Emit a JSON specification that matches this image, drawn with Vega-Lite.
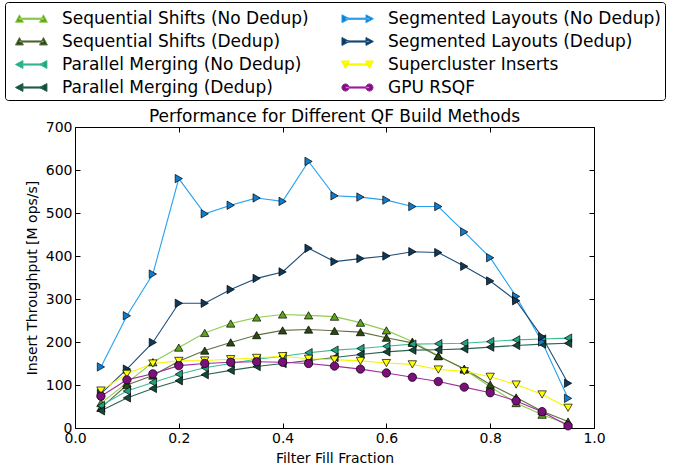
{
  "$schema": "https://vega.github.io/schema/vega-lite/v6.json",
  "width": 519,
  "height": 301,
  "autosize": {"type": "none"},
  "padding": {"left": 75, "top": 127, "right": 79, "bottom": 42},
  "title": {"text": "Performance for Different QF Build Methods", "font": "DejaVu Sans", "fontSize": 17, "fontWeight": "normal", "color": "black", "offset": -124, "anchor": "middle"},
  "data": {"values": [
    {"f": 0.05, "Sequential Shifts (No Dedup)": 58, "Sequential Shifts (Dedup)": 47, "Parallel Merging (No Dedup)": 52, "Parallel Merging (Dedup)": 40, "Segmented Layouts (No Dedup)": 142, "Segmented Layouts (Dedup)": 80, "Supercluster Inserts": 87, "GPU RSQF": 74},
    {"f": 0.10, "Sequential Shifts (No Dedup)": 105, "Sequential Shifts (Dedup)": 100, "Parallel Merging (No Dedup)": 86, "Parallel Merging (Dedup)": 70, "Segmented Layouts (No Dedup)": 261, "Segmented Layouts (Dedup)": 137, "Supercluster Inserts": 126, "GPU RSQF": 112},
    {"f": 0.15, "Sequential Shifts (No Dedup)": 153, "Sequential Shifts (Dedup)": 122, "Parallel Merging (No Dedup)": 106, "Parallel Merging (Dedup)": 92, "Segmented Layouts (No Dedup)": 358, "Segmented Layouts (Dedup)": 199, "Supercluster Inserts": 150, "GPU RSQF": 126},
    {"f": 0.20, "Sequential Shifts (No Dedup)": 187, "Sequential Shifts (Dedup)": 155, "Parallel Merging (No Dedup)": 125, "Parallel Merging (Dedup)": 110, "Segmented Layouts (No Dedup)": 580, "Segmented Layouts (Dedup)": 290, "Supercluster Inserts": 156, "GPU RSQF": 145},
    {"f": 0.25, "Sequential Shifts (No Dedup)": 221, "Sequential Shifts (Dedup)": 180, "Parallel Merging (No Dedup)": 140, "Parallel Merging (Dedup)": 124, "Segmented Layouts (No Dedup)": 498, "Segmented Layouts (Dedup)": 290, "Supercluster Inserts": 157, "GPU RSQF": 150},
    {"f": 0.30, "Sequential Shifts (No Dedup)": 243, "Sequential Shifts (Dedup)": 199, "Parallel Merging (No Dedup)": 150, "Parallel Merging (Dedup)": 134, "Segmented Layouts (No Dedup)": 518, "Segmented Layouts (Dedup)": 322, "Supercluster Inserts": 160, "GPU RSQF": 153},
    {"f": 0.35, "Sequential Shifts (No Dedup)": 257, "Sequential Shifts (Dedup)": 216, "Parallel Merging (No Dedup)": 160, "Parallel Merging (Dedup)": 143, "Segmented Layouts (No Dedup)": 535, "Segmented Layouts (Dedup)": 348, "Supercluster Inserts": 163, "GPU RSQF": 154},
    {"f": 0.40, "Sequential Shifts (No Dedup)": 264, "Sequential Shifts (Dedup)": 227, "Parallel Merging (No Dedup)": 167, "Parallel Merging (Dedup)": 150, "Segmented Layouts (No Dedup)": 527, "Segmented Layouts (Dedup)": 363, "Supercluster Inserts": 167, "GPU RSQF": 153},
    {"f": 0.45, "Sequential Shifts (No Dedup)": 262, "Sequential Shifts (Dedup)": 229, "Parallel Merging (No Dedup)": 175, "Parallel Merging (Dedup)": 157, "Segmented Layouts (No Dedup)": 620, "Segmented Layouts (Dedup)": 418, "Supercluster Inserts": 161, "GPU RSQF": 150},
    {"f": 0.50, "Sequential Shifts (No Dedup)": 259, "Sequential Shifts (Dedup)": 226, "Parallel Merging (No Dedup)": 181, "Parallel Merging (Dedup)": 164, "Segmented Layouts (No Dedup)": 540, "Segmented Layouts (Dedup)": 387, "Supercluster Inserts": 159, "GPU RSQF": 144},
    {"f": 0.55, "Sequential Shifts (No Dedup)": 245, "Sequential Shifts (Dedup)": 223, "Parallel Merging (No Dedup)": 185, "Parallel Merging (Dedup)": 171, "Segmented Layouts (No Dedup)": 537, "Segmented Layouts (Dedup)": 394, "Supercluster Inserts": 156, "GPU RSQF": 137},
    {"f": 0.60, "Sequential Shifts (No Dedup)": 227, "Sequential Shifts (Dedup)": 210, "Parallel Merging (No Dedup)": 190, "Parallel Merging (Dedup)": 177, "Segmented Layouts (No Dedup)": 530, "Segmented Layouts (Dedup)": 400, "Supercluster Inserts": 151, "GPU RSQF": 128},
    {"f": 0.65, "Sequential Shifts (No Dedup)": 201, "Sequential Shifts (Dedup)": 198, "Parallel Merging (No Dedup)": 195, "Parallel Merging (Dedup)": 181, "Segmented Layouts (No Dedup)": 515, "Segmented Layouts (Dedup)": 410, "Supercluster Inserts": 148, "GPU RSQF": 118},
    {"f": 0.70, "Sequential Shifts (No Dedup)": 168, "Sequential Shifts (Dedup)": 167, "Parallel Merging (No Dedup)": 196, "Parallel Merging (Dedup)": 182, "Segmented Layouts (No Dedup)": 515, "Segmented Layouts (Dedup)": 408, "Supercluster Inserts": 136, "GPU RSQF": 108},
    {"f": 0.75, "Sequential Shifts (No Dedup)": 136, "Sequential Shifts (Dedup)": 138, "Parallel Merging (No Dedup)": 197, "Parallel Merging (Dedup)": 184, "Segmented Layouts (No Dedup)": 456, "Segmented Layouts (Dedup)": 376, "Supercluster Inserts": 132, "GPU RSQF": 95},
    {"f": 0.80, "Sequential Shifts (No Dedup)": 96, "Sequential Shifts (Dedup)": 101, "Parallel Merging (No Dedup)": 201, "Parallel Merging (Dedup)": 188, "Segmented Layouts (No Dedup)": 396, "Segmented Layouts (Dedup)": 342, "Supercluster Inserts": 119, "GPU RSQF": 82},
    {"f": 0.85, "Sequential Shifts (No Dedup)": 58, "Sequential Shifts (Dedup)": 71, "Parallel Merging (No Dedup)": 205, "Parallel Merging (Dedup)": 192, "Segmented Layouts (No Dedup)": 306, "Segmented Layouts (Dedup)": 296, "Supercluster Inserts": 101, "GPU RSQF": 63},
    {"f": 0.90, "Sequential Shifts (No Dedup)": 31, "Sequential Shifts (Dedup)": 39, "Parallel Merging (No Dedup)": 207, "Parallel Merging (Dedup)": 195, "Segmented Layouts (No Dedup)": 200, "Segmented Layouts (Dedup)": 212, "Supercluster Inserts": 78, "GPU RSQF": 38},
    {"f": 0.95, "Sequential Shifts (No Dedup)": 9, "Sequential Shifts (Dedup)": 15, "Parallel Merging (No Dedup)": 209, "Parallel Merging (Dedup)": 197, "Segmented Layouts (No Dedup)": 69, "Segmented Layouts (Dedup)": 104, "Supercluster Inserts": 47, "GPU RSQF": 5}
  ]},
  "transform": [
    {"fold": ["Sequential Shifts (No Dedup)", "Sequential Shifts (Dedup)", "Parallel Merging (No Dedup)", "Parallel Merging (Dedup)", "Segmented Layouts (No Dedup)", "Segmented Layouts (Dedup)", "Supercluster Inserts", "GPU RSQF"], "as": ["method", "v"]}
  ],
  "layer": [
    {
      "mark": {"type": "line", "strokeWidth": 1.1},
      "encoding": {
        "x": {"field": "f", "type": "quantitative", "scale": {"domain": [0, 1], "nice": false},
              "axis": {"orient": "bottom", "title": "Filter Fill Fraction", "values": [0, 0.2, 0.4, 0.6, 0.8, 1.0], "format": ".1f", "titlePadding": 6, "labelFlush": false}},
        "y": {"field": "v", "type": "quantitative", "scale": {"domain": [0, 700], "nice": false},
              "axis": {"orient": "left", "title": "Insert Throughput [M ops/s]", "values": [0, 100, 200, 300, 400, 500, 600, 700], "titlePadding": 6, "labelFlush": false}},
        "stroke": {"field": "method", "type": "nominal", "legend": null,
                   "scale": {"domain": ["Sequential Shifts (No Dedup)", "Sequential Shifts (Dedup)", "Parallel Merging (No Dedup)", "Parallel Merging (Dedup)", "Segmented Layouts (No Dedup)", "Segmented Layouts (Dedup)", "Supercluster Inserts", "GPU RSQF"],
                             "range": ["#8fcc4e", "#5f7045", "#3bbd92", "#2a6450", "#27a1f0", "#1f4e79", "#f5f500", "#a32ca3"]}}
      }
    },
    {
      "mark": {"type": "point", "filled": true, "stroke": "black", "strokeWidth": 0.7, "opacity": 1, "size": 70},
      "encoding": {
        "x": {"field": "f", "type": "quantitative", "axis": null},
        "y": {"field": "v", "type": "quantitative", "axis": null},
        "fill": {"field": "method", "type": "nominal", "legend": null,
                 "scale": {"domain": ["Sequential Shifts (No Dedup)", "Sequential Shifts (Dedup)", "Parallel Merging (No Dedup)", "Parallel Merging (Dedup)", "Segmented Layouts (No Dedup)", "Segmented Layouts (Dedup)", "Supercluster Inserts", "GPU RSQF"],
                           "range": ["#5fa21f", "#2b4a12", "#1fa383", "#0f4b38", "#0f7ccf", "#0c3a5e", "#ffff00", "#7d0f7d"]}},
        "shape": {"field": "method", "type": "nominal", "legend": null,
                  "scale": {"domain": ["Sequential Shifts (No Dedup)", "Sequential Shifts (Dedup)", "Parallel Merging (No Dedup)", "Parallel Merging (Dedup)", "Segmented Layouts (No Dedup)", "Segmented Layouts (Dedup)", "Supercluster Inserts", "GPU RSQF"],
                            "range": ["triangle-up", "triangle-up", "triangle-left", "triangle-left", "triangle-right", "triangle-right", "triangle-down", "circle"]}}
      }
    },
    {
      "mark": {"type": "point", "filled": true, "opacity": 0, "strokeWidth": 1},
      "encoding": {
        "x": {"field": "f", "type": "quantitative", "axis": {"orient": "top", "labels": false, "title": null, "values": [0, 0.2, 0.4, 0.6, 0.8, 1.0]}},
        "y": {"field": "v", "type": "quantitative", "axis": {"orient": "right", "labels": false, "title": null, "values": [0, 100, 200, 300, 400, 500, 600, 700]}},
        "fill": {"field": "method", "type": "nominal",
                 "scale": {"domain": ["Sequential Shifts (No Dedup)", "Sequential Shifts (Dedup)", "Parallel Merging (No Dedup)", "Parallel Merging (Dedup)", "Segmented Layouts (No Dedup)", "Segmented Layouts (Dedup)", "Supercluster Inserts", "GPU RSQF"],
                           "range": ["#5fa21f", "#2b4a12", "#1fa383", "#0f4b38", "#0f7ccf", "#0c3a5e", "#ffff00", "#7d0f7d"]},
                 "legend": {"title": null}},
        "stroke": {"field": "method", "type": "nominal",
                   "scale": {"domain": ["Sequential Shifts (No Dedup)", "Sequential Shifts (Dedup)", "Parallel Merging (No Dedup)", "Parallel Merging (Dedup)", "Segmented Layouts (No Dedup)", "Segmented Layouts (Dedup)", "Supercluster Inserts", "GPU RSQF"],
                             "range": ["#8fcc4e", "#5f7045", "#3bbd92", "#2a6450", "#27a1f0", "#1f4e79", "#f5f500", "#a32ca3"]},
                   "legend": {"title": null}},
        "shape": {"field": "method", "type": "nominal",
                  "scale": {"domain": ["Sequential Shifts (No Dedup)", "Sequential Shifts (Dedup)", "Parallel Merging (No Dedup)", "Parallel Merging (Dedup)", "Segmented Layouts (No Dedup)", "Segmented Layouts (Dedup)", "Supercluster Inserts", "GPU RSQF"],
                            "range": [
                              "M-0.17,-0.05 L1.83,-0.05 L1.83,0.05 L-0.17,0.05 Z M-0.5,0.29 L0.16,0.29 L-0.17,-0.33 Z M1.5,0.29 L2.16,0.29 L1.83,-0.33 Z",
                              "M-0.17,-0.05 L1.83,-0.05 L1.83,0.05 L-0.17,0.05 Z M-0.5,0.29 L0.16,0.29 L-0.17,-0.33 Z M1.5,0.29 L2.16,0.29 L1.83,-0.33 Z",
                              "M-0.17,-0.05 L1.83,-0.05 L1.83,0.05 L-0.17,0.05 Z M-0.5,0 L0.12,-0.33 L0.12,0.33 Z M1.5,0 L2.12,-0.33 L2.12,0.33 Z",
                              "M-0.17,-0.05 L1.83,-0.05 L1.83,0.05 L-0.17,0.05 Z M-0.5,0 L0.12,-0.33 L0.12,0.33 Z M1.5,0 L2.12,-0.33 L2.12,0.33 Z",
                              "M-0.17,-0.05 L1.83,-0.05 L1.83,0.05 L-0.17,0.05 Z M0.16,0 L-0.46,-0.33 L-0.46,0.33 Z M2.16,0 L1.54,-0.33 L1.54,0.33 Z",
                              "M-0.17,-0.05 L1.83,-0.05 L1.83,0.05 L-0.17,0.05 Z M0.16,0 L-0.46,-0.33 L-0.46,0.33 Z M2.16,0 L1.54,-0.33 L1.54,0.33 Z",
                              "M-0.17,-0.05 L1.83,-0.05 L1.83,0.05 L-0.17,0.05 Z M-0.5,-0.29 L0.16,-0.29 L-0.17,0.33 Z M1.5,-0.29 L2.16,-0.29 L1.83,0.33 Z",
                              "M-0.17,-0.05 L1.83,-0.05 L1.83,0.05 L-0.17,0.05 Z M-0.47,0 A0.3,0.3 0 1,0 0.13,0 A0.3,0.3 0 1,0 -0.47,0 Z M1.53,0 A0.3,0.3 0 1,0 2.13,0 A0.3,0.3 0 1,0 1.53,0 Z"
                            ]},
                  "legend": {"title": null}}
      }
    }
  ],
  "resolve": {
    "scale": {"shape": "independent", "fill": "independent", "stroke": "independent"},
    "axis": {"x": "independent", "y": "independent"}
  },
  "config": {
    "font": "DejaVu Sans",
    "view": {"stroke": "black", "strokeWidth": 1},
    "axis": {
      "domain": false, "grid": false, "ticks": true, "tickSize": -5, "tickColor": "black", "tickWidth": 1,
      "labelFont": "DejaVu Sans", "labelFontSize": 14, "labelColor": "black", "labelPadding": 8,
      "titleFont": "DejaVu Sans", "titleFontSize": 14, "titleFontWeight": "normal", "titleColor": "black"
    },
    "legend": {
      "orient": "none", "legendX": -70, "legendY": -125, "columns": 2, "direction": "vertical",
      "symbolSize": 576, "symbolOpacity": 1, "symbolStrokeWidth": 1, "symbolLimit": 0,
      "labelFont": "DejaVu Sans", "labelFontSize": 17, "labelColor": "black", "labelOffset": 28, "labelLimit": 400,
      "rowPadding": 2, "columnPadding": 26, "padding": 4,
      "strokeColor": "black", "fillColor": "white", "cornerRadius": 3
    }
  }
}
